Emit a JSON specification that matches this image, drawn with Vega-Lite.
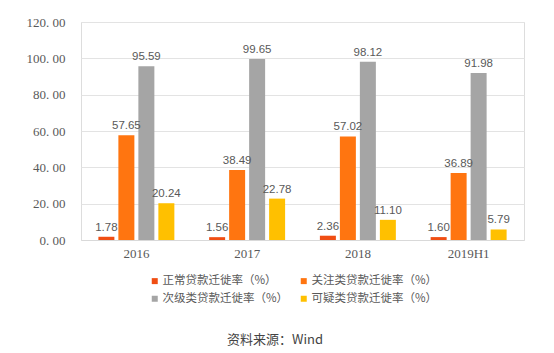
{
  "$schema": "https://vega.github.io/schema/vega-lite/v6.json",
  "width": 443,
  "height": 218,
  "autosize": {"type": "none"},
  "padding": {"left": 81, "top": 22, "right": 30, "bottom": 113},
  "background": "white",
  "title": {
    "text": "资料来源：Wind",
    "orient": "bottom",
    "anchor": "middle",
    "frame": "bounds",
    "font": "Noto Sans CJK SC",
    "fontSize": 13,
    "fontWeight": "normal",
    "color": "#444444",
    "offset": 29
  },
  "data": {
    "values": [
      {"year": "2016", "series": "正常贷款迁徙率（%）", "value": 1.78},
      {"year": "2016", "series": "关注类贷款迁徙率（%）", "value": 57.65},
      {"year": "2016", "series": "次级类贷款迁徙率（%）", "value": 95.59},
      {"year": "2016", "series": "可疑类贷款迁徙率（%）", "value": 20.24},
      {"year": "2017", "series": "正常贷款迁徙率（%）", "value": 1.56},
      {"year": "2017", "series": "关注类贷款迁徙率（%）", "value": 38.49},
      {"year": "2017", "series": "次级类贷款迁徙率（%）", "value": 99.65},
      {"year": "2017", "series": "可疑类贷款迁徙率（%）", "value": 22.78},
      {"year": "2018", "series": "正常贷款迁徙率（%）", "value": 2.36},
      {"year": "2018", "series": "关注类贷款迁徙率（%）", "value": 57.02},
      {"year": "2018", "series": "次级类贷款迁徙率（%）", "value": 98.12},
      {"year": "2018", "series": "可疑类贷款迁徙率（%）", "value": 11.10},
      {"year": "2019H1", "series": "正常贷款迁徙率（%）", "value": 1.60},
      {"year": "2019H1", "series": "关注类贷款迁徙率（%）", "value": 36.89},
      {"year": "2019H1", "series": "次级类贷款迁徙率（%）", "value": 91.98},
      {"year": "2019H1", "series": "可疑类贷款迁徙率（%）", "value": 5.79}
    ]
  },
  "encoding": {
    "x": {
      "field": "year",
      "type": "nominal",
      "sort": null,
      "scale": {"paddingInner": 0.314, "paddingOuter": 0.157},
      "axis": {
        "title": null,
        "labelAngle": 0,
        "ticks": false,
        "domain": true,
        "domainColor": "#D9D9D9",
        "labelFont": "Liberation Serif",
        "labelFontSize": 13,
        "labelColor": "#595959",
        "labelPadding": 7
      }
    },
    "xOffset": {
      "field": "series",
      "type": "nominal",
      "sort": ["正常贷款迁徙率（%）", "关注类贷款迁徙率（%）", "次级类贷款迁徙率（%）", "可疑类贷款迁徙率（%）"],
      "scale": {"paddingInner": 0.2, "paddingOuter": 0}
    },
    "y": {
      "field": "value",
      "type": "quantitative",
      "scale": {"domain": [0, 120]},
      "axis": {
        "title": null,
        "values": [0, 20, 40, 60, 80, 100, 120],
        "labelExpr": "replace(format(datum.value, '.2f'), '.', '. ')",
        "ticks": false,
        "domain": false,
        "gridColor": "#E3E3E3",
        "labelFont": "Liberation Serif",
        "labelFontSize": 13,
        "labelColor": "#595959",
        "labelPadding": 16
      }
    }
  },
  "layer": [
    {
      "mark": {"type": "bar"},
      "encoding": {
        "color": {
          "field": "series",
          "type": "nominal",
          "sort": ["正常贷款迁徙率（%）", "关注类贷款迁徙率（%）", "次级类贷款迁徙率（%）", "可疑类贷款迁徙率（%）"],
          "scale": {
            "domain": ["正常贷款迁徙率（%）", "关注类贷款迁徙率（%）", "次级类贷款迁徙率（%）", "可疑类贷款迁徙率（%）"],
            "range": ["#F04E13", "#FF7510", "#A5A5A5", "#FFC000"]
          },
          "legend": {
            "title": null,
            "orient": "none",
            "direction": "horizontal",
            "legendX": 68,
            "legendY": 253,
            "columns": 2,
            "symbolType": "square",
            "symbolSize": 36,
            "symbolStrokeWidth": 0,
            "labelFont": "Noto Sans CJK SC",
            "labelFontSize": 11.5,
            "labelColor": "#595959",
            "labelOffset": 2,
            "columnPadding": 9,
            "rowPadding": 5
          }
        }
      }
    },
    {
      "mark": {
        "type": "text",
        "baseline": "bottom",
        "dy": -4,
        "font": "Liberation Sans",
        "fontSize": 11.5,
        "color": "#595959"
      },
      "encoding": {
        "text": {"field": "value", "type": "quantitative", "format": ".2f"}
      }
    }
  ]
}
